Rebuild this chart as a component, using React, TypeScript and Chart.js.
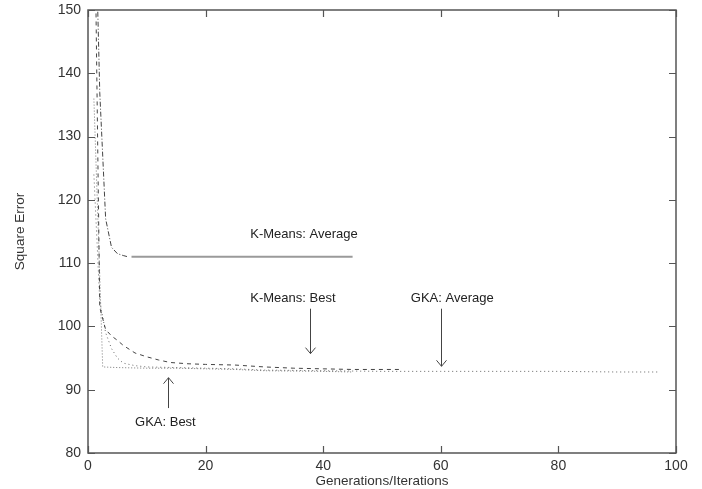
import React, { useEffect, useRef } from "react";
import { Chart, registerables } from "chart.js";

Chart.register(...registerables);

// ---- data ----
const xTicks = [0, 20, 40, 60, 80, 100];
const yTicks = [80, 90, 100, 110, 120, 130, 140, 150];

const kmAvgGen = [1, 2, 3, 4, 5, 6, 6.8, 7.4, 45];
const kmAvgErr = [175, 137, 117, 112.5, 111.5, 111.2, 111.0, 111.0, 111.0];

const kmBestGen = [1, 2, 3, 4, 5, 6, 8, 10, 12, 14, 17, 20, 25, 30, 35, 40, 45, 53];
const kmBestErr = [176, 103, 99.5, 98.5, 97.8, 97, 95.8, 95.2, 94.7, 94.3, 94.1, 94.0, 93.9, 93.6, 93.4, 93.3, 93.2, 93.2];

const gkaAvgGen = [1, 2, 3, 4, 5, 6, 8, 10, 15, 20, 25, 30, 40, 50, 60, 70, 80, 90, 97];
const gkaAvgErr = [124, 104, 99, 96.5, 95, 94.2, 93.8, 93.6, 93.5, 93.4, 93.3, 93.1, 93.0, 92.9, 92.9, 92.9, 92.9, 92.8, 92.8];

const gkaBestGen = [1, 1.5, 2, 2.5, 5, 10, 15, 20, 25, 30, 40, 45];
const gkaBestErr = [136, 122, 108, 93.6, 93.5, 93.4, 93.4, 93.3, 93.2, 93.0, 92.9, 92.8];

// annotation labels (left edge in data coords, vertical centre)
const labelTexts = ["K-Means: Average", "K-Means: Best", "GKA: Average", "GKA: Best"];
const labelGen = [27.6, 27.6, 54.9, 8.0];
const labelErr = [114.5, 104.4, 104.4, 84.9];

const arrowGen = [37.8, 60.0, 13.6];
const arrowFromErr = [102.8, 102.8, 87.1];
const arrowToErr = [95.7, 93.7, 91.9];

const FONT = "'Liberation Sans', Arial, Helvetica, sans-serif";

const toPts = (xs: number[], ys: number[]) => xs.map((x, i) => ({ x, y: ys[i] }));

const framePlugin = {
  id: "gnuFrame",
  afterDatasetsDraw(chart: any) {
    const { ctx, chartArea: a } = chart;
    const x = chart.scales.x;
    const y = chart.scales.y;
    ctx.save();
    ctx.strokeStyle = "#555";
    ctx.lineWidth = 1.5;
    ctx.strokeRect(a.left, a.top, a.right - a.left, a.bottom - a.top);
    ctx.lineWidth = 1.2;
    ctx.beginPath();
    xTicks.forEach((v) => {
      const px = Math.round(x.getPixelForValue(v)) + 0.5;
      ctx.moveTo(px, a.bottom);
      ctx.lineTo(px, a.bottom - 7);
      ctx.moveTo(px, a.top);
      ctx.lineTo(px, a.top + 7);
    });
    yTicks.forEach((v) => {
      const py = Math.round(y.getPixelForValue(v)) + 0.5;
      ctx.moveTo(a.left, py);
      ctx.lineTo(a.left + 7, py);
      ctx.moveTo(a.right, py);
      ctx.lineTo(a.right - 7, py);
    });
    ctx.stroke();

    // labels
    ctx.fillStyle = "#222";
    ctx.font = `13px ${FONT}`;
    ctx.textAlign = "left";
    ctx.textBaseline = "middle";
    labelTexts.forEach((t, i) => {
      ctx.fillText(t, x.getPixelForValue(labelGen[i]), y.getPixelForValue(labelErr[i]));
    });

    // arrows
    ctx.strokeStyle = "#444";
    ctx.lineWidth = 1;
    arrowGen.forEach((g, i) => {
      const px = Math.round(x.getPixelForValue(g)) + 0.5;
      const y0 = y.getPixelForValue(arrowFromErr[i]);
      const y1 = y.getPixelForValue(arrowToErr[i]);
      const dir = y1 > y0 ? 1 : -1;
      ctx.beginPath();
      ctx.moveTo(px, y0);
      ctx.lineTo(px, y1);
      ctx.moveTo(px - 5, y1 - dir * 6);
      ctx.lineTo(px, y1);
      ctx.lineTo(px + 5, y1 - dir * 6);
      ctx.stroke();
    });
    ctx.restore();
  },
};

export default function App() {
  const ref = useRef<HTMLCanvasElement | null>(null);

  useEffect(() => {
    document.body.style.margin = "0";
    if (!ref.current) return;
    const chart = new Chart(ref.current, {
      type: "line",
      data: {
        datasets: [
          {
            label: "K-Means: Average",
            data: toPts(kmAvgGen, kmAvgErr),
            borderColor: "#444",
            borderWidth: 1,
            borderDash: [5, 2, 1, 2],
            pointRadius: 0,
            segment: {
              borderColor: (c: any) =>
                c.p0.parsed.x >= 7 ? "#9a9a9a" : c.p1.parsed.x > 7 ? "rgba(0,0,0,0)" : "#444",
              borderWidth: (c: any) => (c.p0.parsed.x >= 7 ? 2 : 1),
              borderDash: (c: any) => (c.p0.parsed.x >= 7 ? [] : [5, 2, 1, 2]),
            },
          },
          {
            label: "K-Means: Best",
            data: toPts(kmBestGen, kmBestErr),
            borderColor: "#444",
            borderWidth: 1,
            borderDash: [4, 4],
            pointRadius: 0,
          },
          {
            label: "GKA: Average",
            data: toPts(gkaAvgGen, gkaAvgErr),
            borderColor: "#666",
            borderWidth: 1,
            borderDash: [1, 3],
            pointRadius: 0,
          },
          {
            label: "GKA: Best",
            data: toPts(gkaBestGen, gkaBestErr),
            borderColor: "#777",
            borderWidth: 1,
            borderDash: [1, 2],
            pointRadius: 0,
          },
        ],
      },
      options: {
        animation: false,
        responsive: false,
        maintainAspectRatio: false,
        layout: { padding: { top: 10, right: 26, bottom: 0, left: 0 } },
        plugins: { legend: { display: false }, tooltip: { enabled: false } },
        scales: {
          x: {
            type: "linear",
            min: 0,
            max: 100,
            grid: { display: false, drawTicks: false },
            border: { display: false },
            afterFit: (s: any) => {
              s.height = 36;
            },
            afterBuildTicks: (s: any) => {
              s.ticks = xTicks.map((v) => ({ value: v }));
            },
            ticks: { color: "#333", font: { family: FONT, size: 14 }, padding: 5, maxRotation: 0 },
            title: {
              display: true,
              text: "Generations/Iterations",
              color: "#333",
              font: { family: FONT, size: 13.5 },
              padding: { top: 0, bottom: 0 },
            },
          },
          y: {
            type: "linear",
            min: 80,
            max: 150,
            grid: { display: false, drawTicks: false },
            border: { display: false },
            afterFit: (s: any) => {
              s.width = 88;
              s.paddingTop = 0;
              s.paddingBottom = 0;
            },
            afterBuildTicks: (s: any) => {
              s.ticks = yTicks.map((v) => ({ value: v }));
            },
            ticks: { color: "#333", font: { family: FONT, size: 14 }, padding: 7 },
            title: {
              display: true,
              text: "Square Error",
              color: "#333",
              font: { family: FONT, size: 13.5 },
              padding: { top: 12, bottom: 0 },
            },
          },
        },
      },
      plugins: [framePlugin],
    });
    return () => chart.destroy();
  }, []);

  return (
    <div style={{ width: 702, height: 489, background: "#fff" }}>
      <canvas ref={ref} width={702} height={489} style={{ display: "block" }} />
    </div>
  );
}
